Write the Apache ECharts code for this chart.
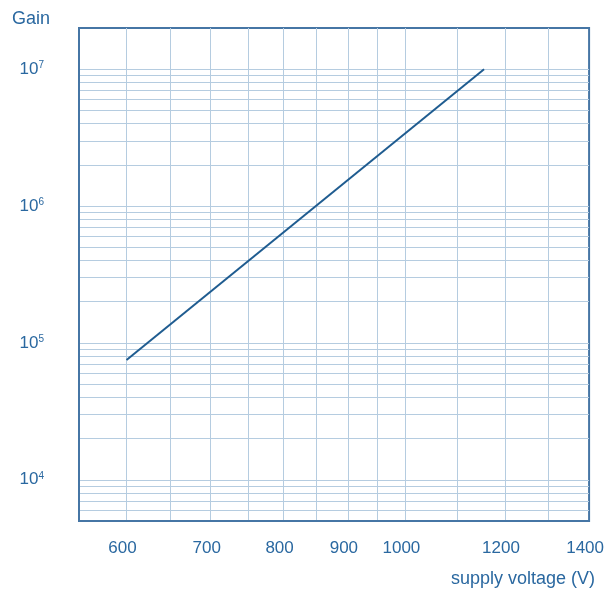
<!DOCTYPE html>
<html>
<head>
<meta charset="utf-8">
<script src="https://cdn.jsdelivr.net/npm/echarts@6/dist/echarts.min.js"></script>
<style>
  html, body { margin: 0; padding: 0; background: #ffffff; }
  #chart { width: 607px; height: 593px; }
</style>
</head>
<body>
<div id="chart"></div>
<script>
// Supply voltage axis (V): labelled values and grid positions
const voltageLabels = [600, 700, 800, 900, 1000, 1200, 1400];
const voltageGridLines = [600, 650, 700, 750, 800, 850, 900, 950, 1000, 1100, 1200, 1300];

// Gain axis: labelled decades and grid positions
const gainLabels = [1e4, 1e5, 1e6, 1e7];
const gainGridLines = [
  6e3, 7e3, 8e3, 9e3,
  1e4, 2e4, 3e4, 4e4, 5e4, 6e4, 7e4, 8e4, 9e4,
  1e5, 2e5, 3e5, 4e5, 5e5, 6e5, 7e5, 8e5, 9e5,
  1e6, 2e6, 3e6, 4e6, 5e6, 6e6, 7e6, 8e6, 9e6,
  1e7
];

// Gain curve (straight line on log-log axes)
const supplyVoltage = [600, 1155];
const gain = [7.5e4, 1e7];

const TEXT = '#2a68a0';
const FRAME = '#4676a5';
const GRID = '#b5cce0';
const LINE = '#1f5c90';
const FONT = "'Liberation Sans', Arial, sans-serif";

const chart = echarts.init(document.getElementById('chart'), null, { renderer: 'canvas' });

chart.setOption({
  animation: false,
  backgroundColor: '#ffffff',
  grid: {
    left: 79, right: 16, top: 28, bottom: 72,
    show: true, borderColor: FRAME, borderWidth: 2,
    containLabel: false
  },
  xAxis: {
    type: 'log',
    logBase: 10,
    min: 550,
    max: 1400,
    name: 'supply voltage (V)',
    nameLocation: 'end',
    nameGap: 6,
    nameTextStyle: {
      color: TEXT, fontFamily: FONT, fontSize: 18,
      align: 'right', verticalAlign: 'top', padding: [49, 0, 0, 0]
    },
    axisLine: { show: true, lineStyle: { color: FRAME, width: 2 } },
    axisTick: { show: false, customValues: voltageGridLines },
    splitLine: { show: true, lineStyle: { color: GRID, width: 1 } },
    axisLabel: {
      customValues: voltageLabels,
      color: TEXT, fontFamily: FONT, fontSize: 17,
      margin: 19,
      padding: [0, 8, 0, 0],
      formatter: v => String(Math.round(v))
    }
  },
  yAxis: {
    type: 'log',
    logBase: 10,
    min: 5e3,
    max: 2e7,
    name: 'Gain',
    nameLocation: 'end',
    nameGap: 0,
    nameTextStyle: {
      color: TEXT, fontFamily: FONT, fontSize: 18,
      align: 'right', verticalAlign: 'bottom', padding: [0, 29, 0, 0]
    },
    axisLine: { show: true, lineStyle: { color: FRAME, width: 2 } },
    axisTick: { show: false, customValues: gainGridLines },
    splitLine: { show: true, lineStyle: { color: GRID, width: 1 } },
    axisLabel: {
      customValues: gainLabels,
      margin: 35,
      formatter: v => '{b|10}{s|' + Math.round(Math.log10(v)) + '}',
      rich: {
        b: { color: TEXT, fontFamily: FONT, fontSize: 17 },
        s: { color: TEXT, fontFamily: FONT, fontSize: 10, padding: [0, 0, 8, 0] }
      }
    }
  },
  series: [{
    type: 'line',
    data: supplyVoltage.map((v, i) => [v, gain[i]]),
    showSymbol: false,
    symbol: 'none',
    lineStyle: { color: LINE, width: 2 },
    z: 5
  }]
});
</script>
</body>
</html>
